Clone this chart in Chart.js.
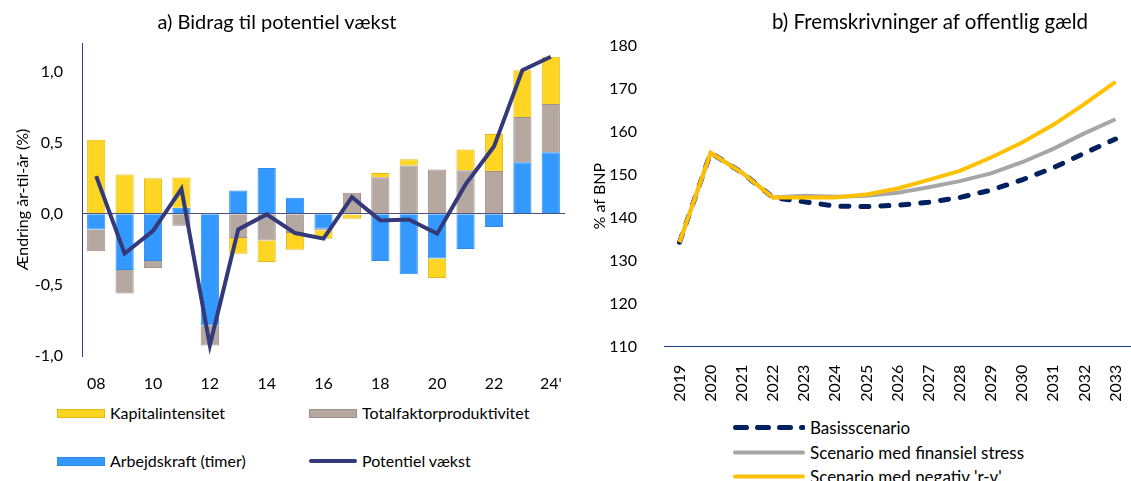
<!DOCTYPE html>
<html><head><meta charset="utf-8">
<script src="https://cdn.jsdelivr.net/npm/chart.js@4.4.1/dist/chart.umd.min.js"></script>
<style>
html,body{margin:0;padding:0;background:#fff;overflow:hidden;width:1131px;height:481px;}
#wrap{position:relative;width:1131px;height:481px;overflow:hidden;font-family:Lato,sans-serif;}
canvas{position:absolute;top:0;}
#cA{left:-11px;}
#cB{left:585px;}
.ttl{position:absolute;top:21px;transform:translate(-50%,-50%);white-space:nowrap;color:#000;line-height:1.2;}
.lg{position:absolute;display:flex;align-items:center;font-size:16px;color:#000;white-space:nowrap;line-height:1;transform:translateY(-50%);}
.lgB{font-size:17px;}
.sw{display:inline-block;box-sizing:border-box;margin-right:5px;}
</style></head><body><div id="wrap">
<canvas id="cA" width="600" height="400"></canvas>
<canvas id="cB" width="560" height="405"></canvas>

<div class="ttl" style="left:277px;font-size:20px">a) Bidrag til potentiel vækst</div>
<div class="ttl" style="left:930px;font-size:20.5px">b) Fremskrivninger af offentlig gæld</div>

<div class="lg" style="left:57px;top:413px"><span class="sw" style="width:48px;height:9px;background:#FFD524;border:1px solid #E5B90F"></span>Kapitalintensitet</div>
<div class="lg" style="left:309px;top:413px"><span class="sw" style="width:48px;height:9px;background:#B5A8A1;border:1px solid #A08F86"></span>Totalfaktorproduktivitet</div>
<div class="lg" style="left:57px;top:461px"><span class="sw" style="width:48px;height:9px;background:#3399FF;border:1px solid #2E8BEA"></span>Arbejdskraft (timer)</div>
<div class="lg" style="left:309px;top:461px"><span class="sw" style="width:48px;height:4px;background:#34397A;border-radius:2px"></span>Potentiel vækst</div>

<div class="lg lgB" style="left:733px;top:427px"><svg class="sw" width="72" height="8"><line x1="2.5" y1="4" x2="70" y2="4" stroke="#002060" stroke-width="5" stroke-linecap="round" stroke-dasharray="11 11"/></svg>Basisscenario</div>
<div class="lg lgB" style="left:733px;top:452px"><svg class="sw" width="72" height="8"><line x1="2" y1="4" x2="70" y2="4" stroke="#A6A6A6" stroke-width="4" stroke-linecap="round"/></svg>Scenario med finansiel stress</div>
<div class="lg lgB" style="left:733px;top:476px"><svg class="sw" width="72" height="8"><line x1="2" y1="4" x2="70" y2="4" stroke="#FFC000" stroke-width="4" stroke-linecap="round"/></svg>Scenario med negativ 'r-v'</div>
</div>
<script>
// ---- Panel a) data ----
const categoriesA = ['08','09','10','11','12','13','14','15','16','17','18','19','20','21','22','23',"24'"];
const arbejdskraft = [-0.11,-0.395,-0.332,0.042,-0.783,0.164,0.322,0.112,-0.105,-0.005,-0.332,-0.425,-0.315,-0.248,-0.093,0.362,0.432];
const tfp          = [-0.154,-0.166,-0.05,-0.084,-0.143,-0.171,-0.189,-0.136,-0.012,0.147,0.257,0.339,0.311,0.306,0.301,0.318,0.339];
const kapital      = [0.52,0.276,0.25,0.213,0.005,-0.11,-0.15,-0.117,-0.058,-0.03,0.03,0.044,-0.136,0.145,0.259,0.329,0.332];
const potentiel    = [0.264,-0.28,-0.12,0.175,-0.925,-0.11,-0.005,-0.136,-0.175,0.117,-0.047,-0.04,-0.14,0.206,0.472,1.009,1.103];
const yTicksA = [-1, -0.5, 0, 0.5, 1];

// ---- Panel b) data ----
const yearsB = ['2019','2020','2021','2022','2023','2024','2025','2026','2027','2028','2029','2030','2031','2032','2033'];
const basis  = [134.3,155.1,150.5,144.7,143.7,142.7,142.6,142.9,143.6,144.7,146.4,148.8,151.6,155.0,158.3];
const stress = [134.3,155.1,150.5,144.7,145.1,144.9,145.1,145.8,147.1,148.5,150.3,152.9,156.0,159.6,162.9];
const negRV  = [134.3,155.1,150.5,144.7,144.7,144.7,145.4,146.8,148.8,150.9,154.0,157.5,161.6,166.4,171.6];
const yTicksB = [110,120,130,140,150,160,170,180];

const NAVY = '#34397A';

function go(){
  Chart.defaults.font.family = 'Lato, sans-serif';
  Chart.defaults.color = '#000';
  Chart.defaults.animation = false;

  new Chart(document.getElementById('cA'), {
    type:'bar',
    data:{labels:categoriesA, datasets:[
      {type:'line', label:'Potentiel vækst', data:potentiel, borderColor:NAVY, borderWidth:4, pointRadius:0, tension:0, order:0, stack:'line'},
      {label:'Arbejdskraft (timer)', data:arbejdskraft, backgroundColor:'#3399FF', borderColor:'#2E8BEA', borderWidth:1, order:1, stack:'s'},
      {label:'Totalfaktorproduktivitet', data:tfp, backgroundColor:'#B5A8A1', borderColor:'#A08F86', borderWidth:1, order:1, stack:'s'},
      {label:'Kapitalintensitet', data:kapital, backgroundColor:'#FFD524', borderColor:'#E5B90F', borderWidth:1, order:1, stack:'s'}
    ]},
    options:{
      responsive:false, devicePixelRatio:1, animation:false,
      layout:{padding:{left:0,right:24,top:43,bottom:0}},
      datasets:{bar:{categoryPercentage:1, barPercentage:0.64}},
      plugins:{legend:{display:false}, tooltip:{enabled:false}, title:{display:false}},
      scales:{
        x:{stacked:true, offset:true, grid:{display:false}, border:{display:false},
           ticks:{autoSkip:false, maxRotation:0, minRotation:0, padding:10, font:{size:16},
                  callback:(v,i)=> i%2===0 ? categoriesA[i] : ''},
           afterFit:s=>{s.height=44;}},
        y:{stacked:true, min:-1, max:1.2, z:1,
           afterBuildTicks:s=>{s.ticks = yTicksA.map(v=>({value:v}));},
           grid:{drawTicks:false, color:c=>(c.tick && c.tick.value===0)?'#4A4F80':'rgba(0,0,0,0)', lineWidth:1},
           border:{display:true, color:NAVY, width:1},
           ticks:{padding:19, font:{size:16}, callback:v=>Number(v).toFixed(1).replace('.',',')},
           title:{display:true, text:'Ændring år-til-år (%)', font:{size:16}, padding:{top:24,bottom:0}},
           afterFit:s=>{s.width=93;}}
      }
    }
  });

  new Chart(document.getElementById('cB'), {
    type:'line',
    data:{labels:yearsB, datasets:[
      {label:'Basisscenario', data:basis, borderColor:'#002060', borderWidth:5, borderDash:[8,12], borderCapStyle:'round', pointRadius:0, tension:0, order:3},
      {label:'Scenario med finansiel stress', data:stress, borderColor:'#A6A6A6', borderWidth:4, pointRadius:0, tension:0, order:2},
      {label:"Scenario med negativ 'r-v'", data:negRV, borderColor:'#FFC000', borderWidth:4, pointRadius:0, tension:0, order:1}
    ]},
    options:{
      responsive:false, devicePixelRatio:1, animation:false,
      layout:{padding:{left:0,right:9.3,top:45.7,bottom:0}},
      plugins:{legend:{display:false}, tooltip:{enabled:false}, title:{display:false}},
      scales:{
        x:{offset:true, grid:{display:false}, border:{display:true, color:'#1F3C88', width:1},
           ticks:{autoSkip:false, minRotation:90, maxRotation:90, padding:10, font:{size:16}},
           afterFit:s=>{s.height=58.3;}},
        y:{min:110, max:180,
           afterBuildTicks:s=>{s.ticks = yTicksB.map(v=>({value:v}));},
           grid:{display:false}, border:{display:false},
           ticks:{padding:19, font:{size:16}},
           title:{display:true, text:'% af BNP', font:{size:16}, padding:{top:5.4,bottom:0}},
           afterFit:s=>{s.width=79;}}
      }
    }
  });
}
let started=false;
function start(){ if(started) return; started=true; go(); }
Promise.all([document.fonts.load('16px Lato'), document.fonts.load('20px Lato')]).then(start, start);
setTimeout(start, 1500);
</script>
</body></html>
